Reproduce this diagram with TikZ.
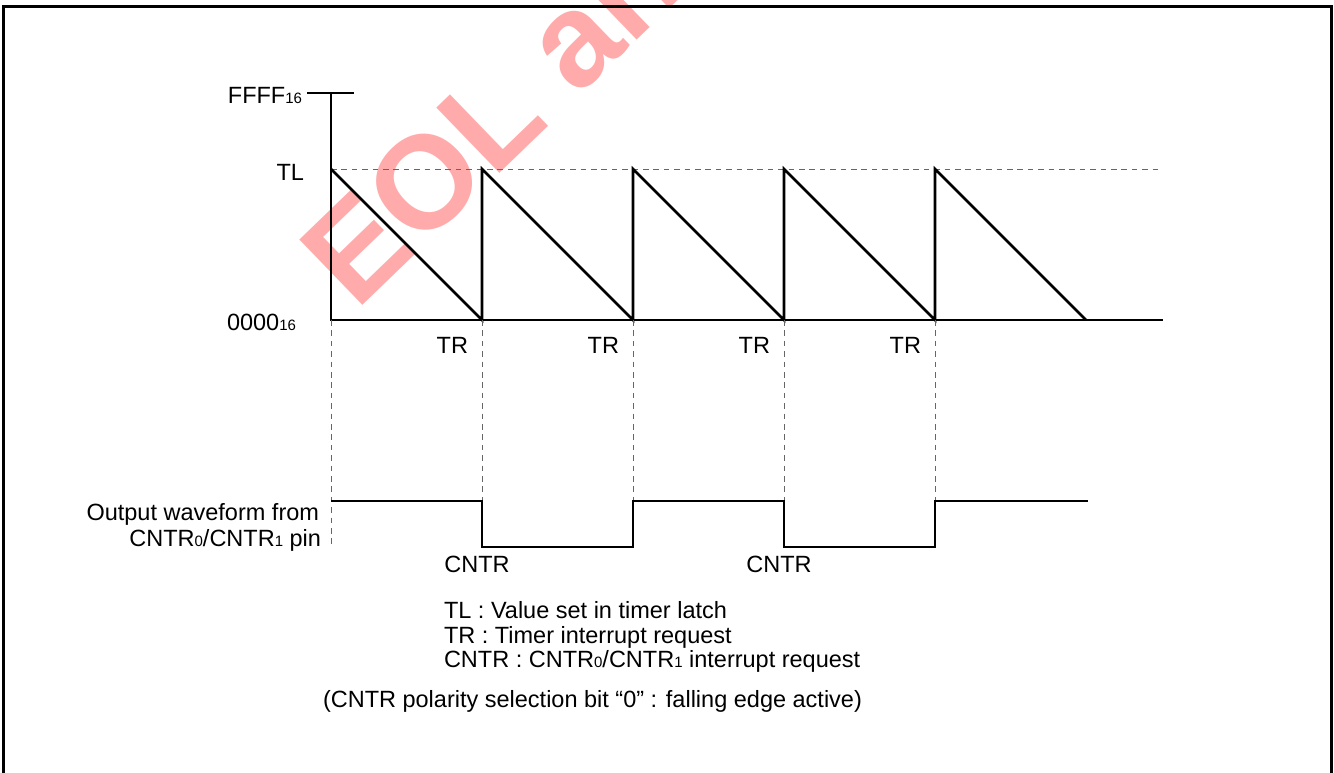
\documentclass[tikz,border=0pt]{standalone}
\usepackage{fontspec}
\setmainfont{Liberation Sans}
\usetikzlibrary{positioning}
\tikzset{%
   lbl/.style={
      inner sep=0pt,
      outer sep=0pt,
      font=\fontsize{11.75}{12}\selectfont
   },
   wave/.style={
      line width=1.3pt,
      line join=miter
   },
   guide/.style={
      line width=0.5pt,
      draw=black!60,
      dash pattern=on 2.8pt off 2.4pt
   },
   frame/.style={
      line width=1.5pt
   },
   eolmark/.style={
      inner sep=0pt,
      text=red!33,
      font=\fontsize{66}{66}\selectfont\bfseries
   },
}
\newcommand\lowsub[1]{{\fontsize{7.5}{7.5}\selectfont #1}}

\begin{document}
\begin{tikzpicture}[x=0.5pt, y=-0.5pt]
   \useasboundingbox (0,0) rectangle (1334,772);
   % watermark
   \node[eolmark, rotate=44, anchor=base west] (eol) at (356,312) {EOL announced};
   % frame
   \draw[frame] (3,780) -- (3,6) -- (1331,6) -- (1331,780);
   % counter axis
   \coordinate (top) at (331,93);
   \coordinate (org) at (331,320);
   \draw[wave] (307,93) -- (354,93);
   \draw[wave] (top) -- (org) -- (1163,320);
   \draw[guide] (331,169) -- (1160,169);
   \draw[wave] (331,169) \foreach \x in {482,633,784,935} {-- (\x,320) -- (\x,169)} -- (1086,320);
   \node[lbl, anchor=base east] (ffff) at (302,103) {FFFF\lowsub{16}};
   \node[lbl, anchor=base east] (tl) at (304,180) {TL};
   \node[lbl, anchor=base east] (zero) at (296,330) {0000\lowsub{16}};
   \foreach \x [count=\i] in {468,619,770,921}
      \node[lbl, anchor=base east] (tr\i) at (\x,353) {TR};
   % guides down to the pin
   \draw[guide] (org) -- (331,547);
   \foreach \x in {482,633,784,935}
      \draw[guide] (\x,320) -- (\x,501);
   % output waveform
   \draw[wave] (331,501) -- (482,501) -- (482,547) -- (633,547) -- (633,501)
      -- (784,501) -- (784,547) -- (935,547) -- (935,501) -- (1088,501);
   \node[lbl, anchor=base] (cntr1) at (477,572) {CNTR};
   \node[lbl, anchor=base] (cntr2) at (779,572) {CNTR};
   \node[lbl, anchor=base east] (out1) at (319,520) {Output waveform from};
   \node[lbl, anchor=base east] (out2) at (321,546) {CNTR\lowsub{0}/CNTR\lowsub{1} pin};
   % key
   \node[lbl, anchor=base west] (key1) at (444,618) {TL : Value set in timer latch};
   \node[lbl, anchor=base west] (key2) at (444,643) {TR : Timer interrupt request};
   \node[lbl, anchor=base west] (key3) at (444,667) {CNTR : CNTR\lowsub{0}/CNTR\lowsub{1} interrupt request};
   \node[lbl, anchor=base west] (note) at (323,707) {(CNTR polarity selection bit “0” : falling edge active)};
\end{tikzpicture}
\end{document}
